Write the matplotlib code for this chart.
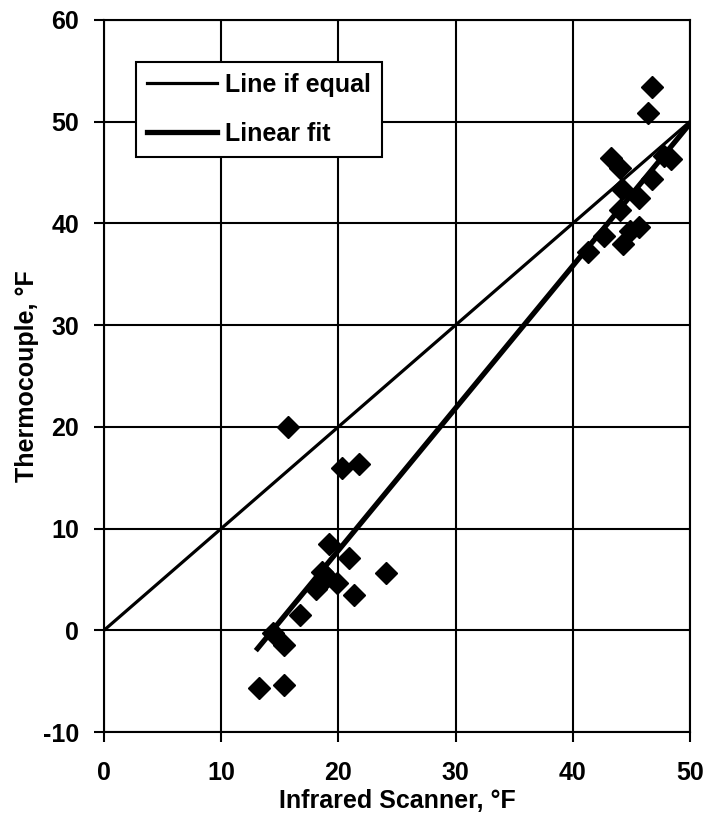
import numpy as np
import matplotlib.pyplot as plt

plt.rcParams['font.family'] = ['Liberation Sans', 'DejaVu Sans']
plt.rcParams['axes.unicode_minus'] = False

# scanner vs thermocouple readings, deg F
scanner = [15.7, 20.3, 21.8, 19.2, 20.9, 24.1, 18.6, 19.0, 19.9, 18.1,
           21.3, 16.7, 14.4, 15.4, 13.2, 15.4,
           46.8, 46.4, 43.3, 44.0, 47.8, 48.4, 46.8, 44.2, 45.7, 44.0,
           44.9, 45.7, 44.3, 42.7, 41.3]
thermo = [20.0, 16.0, 16.3, 8.5, 7.1, 5.6, 5.7, 5.2, 4.6, 4.1,
          3.5, 1.5, -0.3, -1.4, -5.7, -5.4,
          53.4, 50.9, 46.4, 45.4, 46.6, 46.3, 44.4, 43.4, 42.5, 41.3,
          39.3, 39.6, 38.0, 38.8, 37.2]

equal_x = [0, 50]
equal_y = [0, 50]
fit_x = [13.1, 50.0]
fit_y = [-1.8, 49.8]

fig = plt.figure(figsize=(7.09, 8.26), dpi=100)
ax = fig.add_axes([0.1467, 0.1138, 0.8263, 0.862])

ax.plot(equal_x, equal_y, color='black', lw=2.3, label='Line if equal', zorder=3)
ax.plot(fit_x, fit_y, color='black', lw=3.8, label='Linear fit', zorder=3)
ax.plot(scanner, thermo, linestyle='none', marker='D', ms=11.5,
        color='black', zorder=4)

ax.set_xlim(0, 50)
ax.set_ylim(-10, 60)
ax.set_xticks(np.arange(0, 51, 10))
ax.set_yticks(np.arange(-10, 61, 10))
ax.grid(True, color='black', lw=1.5)
ax.set_axisbelow(True)
for s in ax.spines.values():
    s.set_linewidth(1.5)
ax.tick_params(direction='out', length=7, width=1.5, labelsize=18)
ax.tick_params(axis='x', pad=14)
ax.tick_params(axis='y', pad=11)
for lab in ax.get_xticklabels() + ax.get_yticklabels():
    lab.set_fontweight('bold')

ax.set_xlabel('Infrared Scanner, °F', fontsize=18, fontweight='bold', labelpad=3)
ax.set_ylabel('Thermocouple, °F', fontsize=18, fontweight='bold', labelpad=3)

leg = ax.legend(loc='upper left', bbox_to_anchor=(0.055, 0.941), borderaxespad=0,
                fancybox=False, framealpha=1, edgecolor='black',
                prop={'size': 18, 'weight': 'bold'}, handlelength=2.8,
                handletextpad=0.3, borderpad=0.45, labelspacing=1.0)
leg.get_frame().set_linewidth(1.5)

fig.savefig('out.png', dpi=100)
